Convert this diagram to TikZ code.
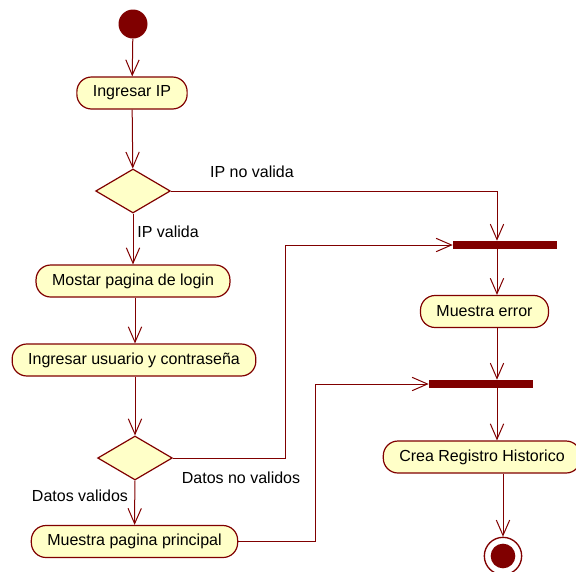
\documentclass[tikz,border=0pt]{standalone}
\usepackage{fontspec}
\setmainfont{Liberation Sans}
\usetikzlibrary{shapes.geometric,arrows.meta,positioning,calc}
\definecolor{umlred}{RGB}{128,0,0}
\definecolor{umlfill}{RGB}{255,255,200}

\begin{document}
\begin{tikzpicture}[x=0.75pt, y=-0.75pt,
    action/.style={draw=umlred, fill=umlfill, line width=0.9pt, rounded corners=11pt,
        minimum height=24pt, inner xsep=12pt, font=\fontsize{12}{14}\selectfont},
    decision/.style={diamond, draw=umlred, fill=umlfill, line width=0.9pt,
        minimum width=56pt, minimum height=33pt, inner sep=0pt},
    forkbar/.style={fill=umlred, minimum width=78pt, minimum height=6pt, inner sep=0pt},
    guard/.style={font=\fontsize{12}{14}\selectfont},
    flow/.style={draw=umlred, line width=0.75pt, -{Straight Barb[length=11.5pt,width=10pt]}}]
    % Canvas
    \useasboundingbox (0,0) rectangle (576,572);

    % Start and end
    \node[circle, fill=umlred, minimum size=21.75pt, inner sep=0pt] (start) at (133,24) {};
    \node[circle, draw=umlred, fill=white, line width=1pt, minimum size=28pt, inner sep=0pt] (final) at (503,556) {};
    \node[circle, fill=umlred, minimum size=18.5pt, inner sep=0pt] (finaldot) at (final) {};

    % Left column
    \node[action] (ingip) at (132,93) {Ingresar IP};
    \node[decision] (ipcheck) at (133,191) {};
    \node[action] (login) at (133,281) {Mostar pagina de login};
    \node[action] (usuario) at (134,360) {Ingresar usuario y contraseña};
    \node[decision] (datcheck) at (135,458) {};
    \node[action] (principal) at (134.5,541.5) {Muestra pagina principal};

    % Right column
    \node[forkbar] (bar1) at (505,245) {};
    \node[action] (error) at (484.5,311.5) {Muestra error};
    \node[forkbar] (bar2) at (481,384) {};
    \node[action] (crea) at (482,457) {Crea Registro Historico};

    % Guards
    \node[guard] (ipno) at (252,172) {IP no valida};
    \node[guard] (ipsi) at (168,232) {IP valida};
    \node[guard] (datno) at (241,478) {Datos no validos};
    \node[guard] (datsi) at (80,496) {Datos validos};

    % Helper columns
    \coordinate (colr) at (497,0);
    \coordinate (cold) at (503,0);
    \coordinate (turn1) at (285,0);
    \coordinate (turn2) at (315,0);

    % Flows
    \draw[flow] (start) -- (ingip);
    \draw[flow] (ingip) -- (ipcheck);
    \draw[flow] (ipcheck) -- (login);
    \draw[flow] (login.south -| 135,0) -- (usuario.north -| 135,0);
    \draw[flow] (usuario.south -| 135,0) -- (datcheck);
    \draw[flow] (datcheck) -- (principal);
    \draw[flow] (ipcheck.east) -- (ipcheck.east -| colr) -- (bar1.north -| colr);
    \draw[flow] (datcheck.east) -- (datcheck.east -| turn1) -- (bar1.west -| turn1) -- (bar1.west);
    \draw[flow] (bar1.south -| colr) -- (error.north -| colr);
    \draw[flow] (error.south -| colr) -- (bar2.north -| colr);
    \draw[flow] (principal.east) -- (principal.east -| turn2) -- (bar2.west -| turn2) -- (bar2.west);
    \draw[flow] (bar2.south -| colr) -- (crea.north -| colr);
    \draw[flow] (crea.south -| cold) -- (final);

\end{tikzpicture}
\end{document}
